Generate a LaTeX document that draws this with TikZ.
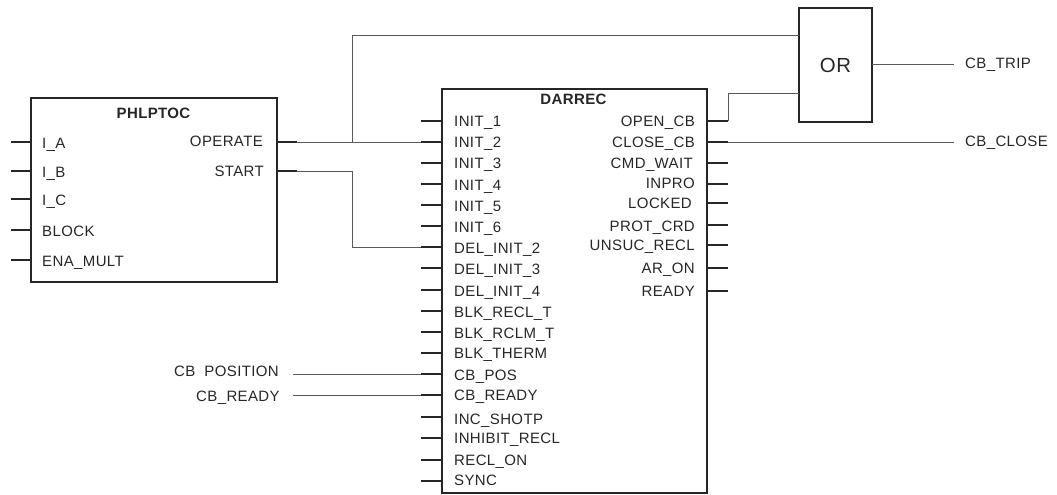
\documentclass[tikz,border=0pt]{standalone}
\usepackage{fontspec}
\setmainfont[LetterSpace=2.5]{Liberation Sans}
\tikzset{
  blockbox/.style={draw=black!85, line width=1.1pt, inner sep=0pt, outer sep=0pt},
  pinline/.style={black!85, line width=1.1pt},
  wire/.style={black!65, line width=0.8pt},
  lbl/.style={font=\fontsize{15}{15}\selectfont, text=black!85, inner sep=0pt},
  lblL/.style={lbl, anchor=base west},
  lblR/.style={lbl, anchor=base east},
  title/.style={lbl, anchor=base, font=\fontsize{15}{15}\selectfont\bfseries}
}
\begin{document}
\begin{tikzpicture}[x=1pt, y=-1pt]
\useasboundingbox (0,0) rectangle (1057,495);
% blocks
\node[blockbox, minimum width=246pt, minimum height=184pt] (phl) at (154,190) {};
\node[blockbox, minimum width=265pt, minimum height=404pt] (dar) at (574.5,291) {};
\node[blockbox, minimum width=73pt, minimum height=114pt, font=\fontsize{20.4}{21}\selectfont, text=black!85] (orgate) at (835.5,65) {OR};
\node[title] (phlName) at (153.5,118) {PHLPTOC};
\node[title] (darName) at (573.5,104) {DARREC};
% PHLPTOC inputs
\coordinate (pinIA) at (11,142); \draw[pinline] (pinIA) -- (pinIA -| phl.west); \node[lblL] (lblIA) at (42,148) {I\_A};
\coordinate (pinIB) at (11,171); \draw[pinline] (pinIB) -- (pinIB -| phl.west); \node[lblL] (lblIB) at (42,177) {I\_B};
\coordinate (pinIC) at (11,199); \draw[pinline] (pinIC) -- (pinIC -| phl.west); \node[lblL] (lblIC) at (42,205) {I\_C};
\coordinate (pinBlock) at (11,230); \draw[pinline] (pinBlock) -- (pinBlock -| phl.west); \node[lblL] (lblBlock) at (42,236) {BLOCK};
\coordinate (pinEna) at (11,260); \draw[pinline] (pinEna) -- (pinEna -| phl.west); \node[lblL] (lblEna) at (42,266) {ENA\_MULT};
% PHLPTOC outputs
\coordinate (pinOper) at (297,142); \draw[pinline] (pinOper) -- (pinOper -| phl.east); \node[lblR] (lblOper) at (263,146) {OPERATE};
\coordinate (pinStart) at (297,171); \draw[pinline] (pinStart) -- (pinStart -| phl.east); \node[lblR] (lblStart) at (264,176.5) {START};
% DARREC inputs
\coordinate (pinInit1) at (421,121); \draw[pinline] (pinInit1) -- (pinInit1 -| dar.west); \node[lblL] (lblInit1) at (454,126) {INIT\_1};
\coordinate (pinInit2) at (421,142); \draw[pinline] (pinInit2) -- (pinInit2 -| dar.west); \node[lblL] (lblInit2) at (454,147) {INIT\_2};
\coordinate (pinInit3) at (421,163); \draw[pinline] (pinInit3) -- (pinInit3 -| dar.west); \node[lblL] (lblInit3) at (454,168) {INIT\_3};
\coordinate (pinInit4) at (421,184); \draw[pinline] (pinInit4) -- (pinInit4 -| dar.west); \node[lblL] (lblInit4) at (454,190) {INIT\_4};
\coordinate (pinInit5) at (421,205); \draw[pinline] (pinInit5) -- (pinInit5 -| dar.west); \node[lblL] (lblInit5) at (454,211) {INIT\_5};
\coordinate (pinInit6) at (421,226); \draw[pinline] (pinInit6) -- (pinInit6 -| dar.west); \node[lblL] (lblInit6) at (454,232) {INIT\_6};
\coordinate (pinDel2) at (421,247); \draw[pinline] (pinDel2) -- (pinDel2 -| dar.west); \node[lblL] (lblDel2) at (454,253) {DEL\_INIT\_2};
\coordinate (pinDel3) at (421,268); \draw[pinline] (pinDel3) -- (pinDel3 -| dar.west); \node[lblL] (lblDel3) at (454,274) {DEL\_INIT\_3};
\coordinate (pinDel4) at (421,290); \draw[pinline] (pinDel4) -- (pinDel4 -| dar.west); \node[lblL] (lblDel4) at (454,296) {DEL\_INIT\_4};
\coordinate (pinRecl) at (421,311); \draw[pinline] (pinRecl) -- (pinRecl -| dar.west); \node[lblL] (lblRecl) at (454,317) {BLK\_RECL\_T};
\coordinate (pinRclm) at (421,332); \draw[pinline] (pinRclm) -- (pinRclm -| dar.west); \node[lblL] (lblRclm) at (454,338) {BLK\_RCLM\_T};
\coordinate (pinTherm) at (421,353); \draw[pinline] (pinTherm) -- (pinTherm -| dar.west); \node[lblL] (lblTherm) at (454,358) {BLK\_THERM};
\coordinate (pinPos) at (421,374); \draw[pinline] (pinPos) -- (pinPos -| dar.west); \node[lblL] (lblPos) at (454,380) {CB\_POS};
\coordinate (pinReady) at (421,395); \draw[pinline] (pinReady) -- (pinReady -| dar.west); \node[lblL] (lblReady) at (454,400) {CB\_READY};
\coordinate (pinShot) at (421,417); \draw[pinline] (pinShot) -- (pinShot -| dar.west); \node[lblL] (lblShot) at (454,424) {INC\_SHOTP};
\coordinate (pinInh) at (421,438); \draw[pinline] (pinInh) -- (pinInh -| dar.west); \node[lblL] (lblInh) at (454,443) {INHIBIT\_RECL};
\coordinate (pinOn) at (421,460); \draw[pinline] (pinOn) -- (pinOn -| dar.west); \node[lblL] (lblOn) at (454,465) {RECL\_ON};
\coordinate (pinSync) at (421,481); \draw[pinline] (pinSync) -- (pinSync -| dar.west); \node[lblL] (lblSync) at (454,485) {SYNC};
% DARREC outputs
\coordinate (pinOpen) at (728,121); \draw[pinline] (pinOpen) -- (pinOpen -| dar.east); \node[lblR] (lblOpen) at (695,126) {OPEN\_CB};
\coordinate (pinClose) at (728,142); \draw[pinline] (pinClose) -- (pinClose -| dar.east); \node[lblR] (lblClose) at (695,147) {CLOSE\_CB};
\coordinate (pinWait) at (728,163); \draw[pinline] (pinWait) -- (pinWait -| dar.east); \node[lblR] (lblWait) at (693,168) {CMD\_WAIT};
\coordinate (pinInpro) at (728,184); \draw[pinline] (pinInpro) -- (pinInpro -| dar.east); \node[lblR] (lblInpro) at (695,188) {INPRO};
\coordinate (pinLock) at (728,203); \draw[pinline] (pinLock) -- (pinLock -| dar.east); \node[lblR] (lblLock) at (692,208) {LOCKED};
\coordinate (pinProt) at (728,225); \draw[pinline] (pinProt) -- (pinProt -| dar.east); \node[lblR] (lblProt) at (695,231) {PROT\_CRD};
\coordinate (pinUns) at (728,245); \draw[pinline] (pinUns) -- (pinUns -| dar.east); \node[lblR] (lblUns) at (695,250) {UNSUC\_RECL};
\coordinate (pinAr) at (728,268); \draw[pinline] (pinAr) -- (pinAr -| dar.east); \node[lblR] (lblAr) at (695,273) {AR\_ON};
\coordinate (pinRdy) at (728,291); \draw[pinline] (pinRdy) -- (pinRdy -| dar.east); \node[lblR] (lblRdy) at (695,296) {READY};
% wires
\coordinate (jointOper) at (352,142);
\coordinate (orUpper) at (799,35);
\coordinate (orLower) at (799,93);
\coordinate (jogStart) at (352,247);
\draw[wire] (pinOper) -- (pinInit2);
\draw[wire] (jointOper) |- (orUpper);
\draw[wire] (pinStart) -| (jogStart) -- (pinDel2);
\draw[wire] (pinOpen) |- (orLower);
\coordinate (endTrip) at (954,64); \draw[wire] (orgate.east |- endTrip) -- (endTrip); \node[lblL] (lblTrip) at (965,68) {CB\_TRIP};
\coordinate (endClose) at (954,142); \draw[wire] (pinClose) -- (endClose); \node[lblL] (lblCbClose) at (965,146) {CB\_CLOSE};
\coordinate (startPos) at (293,374); \draw[wire] (startPos) -- (pinPos); \node[lblL] (lblCbPos) at (174,376) {CB\ \ POSITION};
\coordinate (startReady) at (293,395); \draw[wire] (startReady) -- (pinReady); \node[lblL] (lblCbReady) at (196,401.5) {CB\_READY};
\end{tikzpicture}
\end{document}
